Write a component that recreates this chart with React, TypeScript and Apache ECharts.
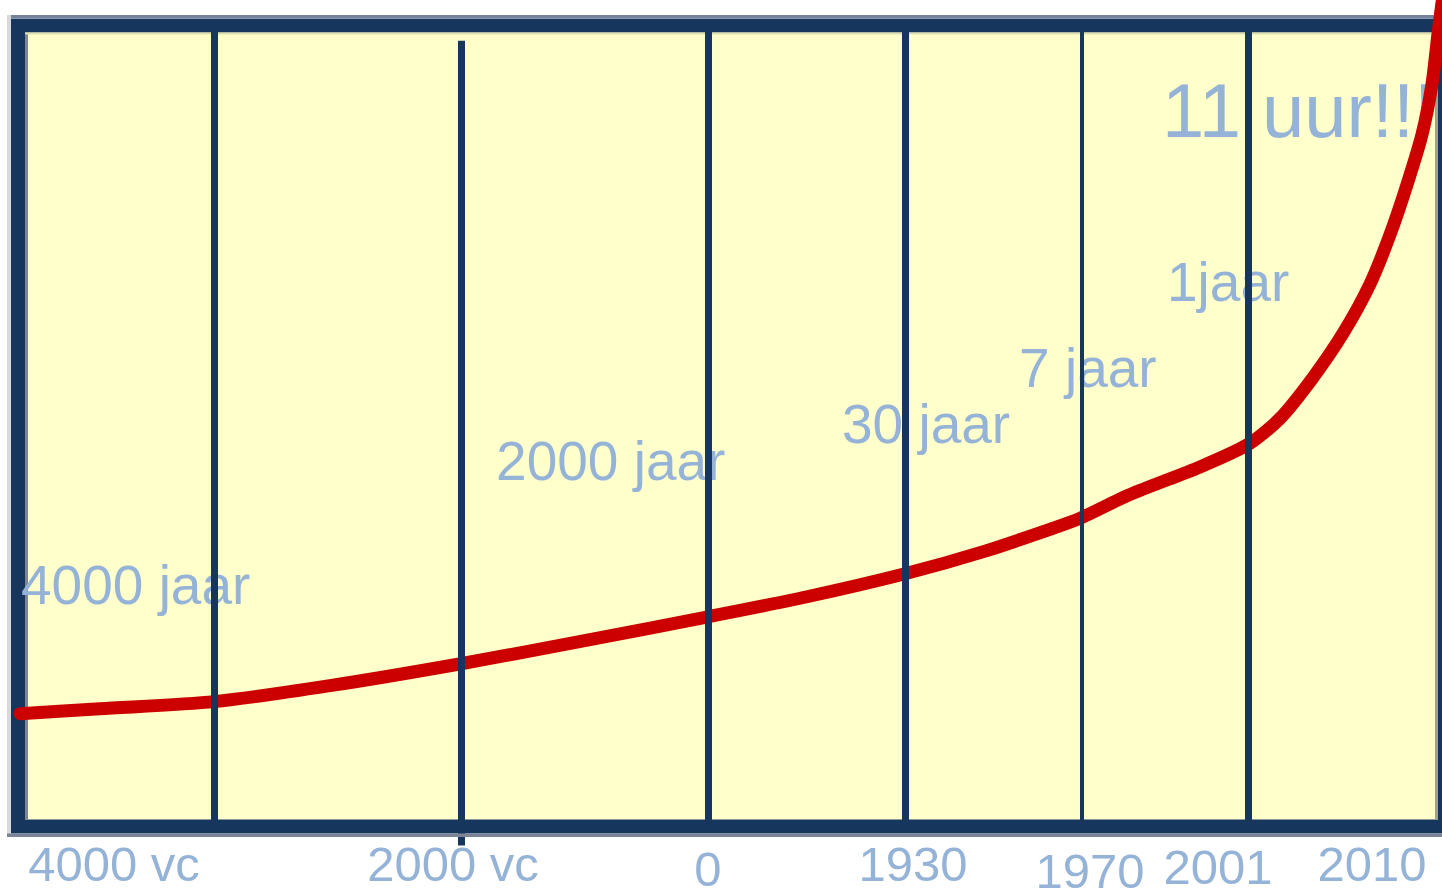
import React, { useEffect, useRef } from "react";
import * as echarts from "echarts";

// Schematic x axis (0..100) and schematic growth y axis (0..100)
const curveX = [0.14, 5.75, 13.74, 21.86, 31.04, 40.08, 48.35, 55.29, 62.16, 67.83, 72.81, 74.49, 77.86, 82.83, 86.2, 88.44, 90.75, 92.85, 94.74, 96.15, 97.34, 98.39, 99.09, 99.51, 99.79];
const curveY = [14.09, 14.71, 15.59, 17.58, 20.32, 23.32, 26.18, 28.68, 31.55, 34.41, 37.41, 38.53, 41.4, 44.89, 47.7, 50.95, 56.05, 61.55, 67.7, 73.9, 80.15, 86.4, 92.7, 99.0, 102.87];

const dividerX = [13.77, 31.08, 48.35, 62.16, 74.53, 86.23];
const dividerTop = [100, 98.1, 100, 100, 100, 100];

const yearLabels = ["4000 vc", "2000 vc", "0", "1930", "1970", "2001", "2010"];
const yearLabelX = [6.73, 30.48, 48.35, 62.72, 75.12, 84.09, 94.88];

const noteTexts = ["4000 jaar", "2000 jaar", "30 jaar", "7 jaar", "1jaar", "11 uur!!!"];
const noteX = [0.21, 33.5, 57.74, 70.15, 80.52, 80.17];
const noteY = [30.17, 45.64, 50.25, 57.29, 68.02, 89.4];

const NAVY = "#17365D";
const RED = "#CC0000";
const BLUE = "#95B3D7";
const FONT = "'Liberation Sans', Arial, sans-serif";

export default function App() {
  const ref = useRef<HTMLDivElement>(null);

  useEffect(() => {
    if (!ref.current) return;
    const chart = echarts.init(ref.current, undefined, { renderer: "svg" });

    const dividerWidths = [7, 7, 7, 7, 4, 7];
    const labelDrop: Record<string, number> = { "0": 5, "1970": 7, "2001": 3 };
    const noteSizes: Record<string, number> = { "11 uur!!!": 76 };

    const rich: Record<string, any> = {
      n: { fontSize: 49, fontFamily: FONT, color: BLUE },
    };
    [3, 5, 7].forEach((d) => {
      rich["d" + d] = { fontSize: 49, fontFamily: FONT, color: BLUE, padding: [d, 0, 0, 0] };
    });

    const option: any = {
      animation: false,
      backgroundColor: "#FFFFFF",
      grid: {
        show: true,
        left: 18,
        top: 25.5,
        width: 1427,
        height: 801,
        containLabel: false,
        outerBoundsMode: "none",
        backgroundColor: "#FFFFCC",
        borderColor: NAVY,
        borderWidth: 14,
      },
      xAxis: {
        type: "value",
        min: 0,
        max: 100,
        axisLine: { show: false },
        splitLine: { show: false },
        axisTick: {
          show: true,
          customValues: [dividerX[1]],
          length: 19,
          inside: false,
          lineStyle: { color: NAVY, width: 7 },
        },
        axisLabel: {
          show: true,
          customValues: yearLabelX,
          margin: 13,
          fontSize: 49,
          fontFamily: FONT,
          color: BLUE,
          verticalAlign: "top",
          formatter: (v: number) => {
            let idx = 0;
            let best = Infinity;
            yearLabelX.forEach((x, i) => {
              const d = Math.abs(x - v);
              if (d < best) {
                best = d;
                idx = i;
              }
            });
            const t = yearLabels[idx];
            const drop = labelDrop[t];
            return drop ? `{d${drop}|${t}}` : `{n|${t}}`;
          },
          rich,
        },
      },
      yAxis: {
        type: "value",
        min: 0,
        max: 100,
        show: false,
      },
      graphic: [
        { type: "rect", z: 1, shape: { x: 11, y: 15, width: 1431, height: 3 }, style: { fill: "#76829A" } },
        { type: "rect", z: 1, shape: { x: 7, y: 15, width: 4, height: 822 }, style: { fill: "#D9D9D9" } },
        { type: "rect", z: 1, shape: { x: 7, y: 833.5, width: 1435, height: 3.5 }, style: { fill: "#7B8497" } },
        { type: "rect", z: 1, shape: { x: 25, y: 32.5, width: 3, height: 787 }, style: { fill: "#7F868C" } },
        { type: "rect", z: 1, shape: { x: 25, y: 32.5, width: 1410, height: 2 }, style: { fill: "#DEDEB0" } },
        { type: "rect", z: 1, shape: { x: 1435, y: 32.5, width: 3, height: 787 }, style: { fill: "#9EA38A" } },
      ],
      series: [
        {
          type: "scatter",
          z: 3,
          symbolSize: 0,
          itemStyle: { color: "transparent", opacity: 1 },
          silent: true,
          clip: false,
          data: noteTexts.map((t, i) => ({
            name: t,
            value: [noteX[i], noteY[i]],
            label: { fontSize: noteSizes[t] || 55 },
          })),
          label: {
            show: true,
            position: "right",
            distance: 0,
            formatter: "{b}",
            color: BLUE,
            opacity: 1,
            fontFamily: FONT,
            fontSize: 55,
          },
        },
        {
          type: "line",
          z: 4,
          data: curveX.map((x, i) => [x, curveY[i]]),
          smooth: 0.25,
          symbol: "none",
          showSymbol: false,
          clip: false,
          silent: true,
          lineStyle: { color: RED, width: 13, cap: "round", join: "round" },
        },
        {
          type: "line",
          z: 5,
          data: [],
          silent: true,
          markLine: {
            silent: true,
            symbol: ["none", "none"],
            label: { show: false },
            animation: false,
            data: dividerX.map((x, i) => [
              { coord: [x, 0], lineStyle: { color: NAVY, width: dividerWidths[i], type: "solid" } },
              { coord: [x, dividerTop[i]] },
            ]),
          },
        },
      ],
    };

    chart.setOption(option);
    return () => chart.dispose();
  }, []);

  return (
    <div
      ref={ref}
      style={{ position: "absolute", left: 0, top: 0, width: 1442, height: 892, background: "#FFFFFF" }}
    />
  );
}
